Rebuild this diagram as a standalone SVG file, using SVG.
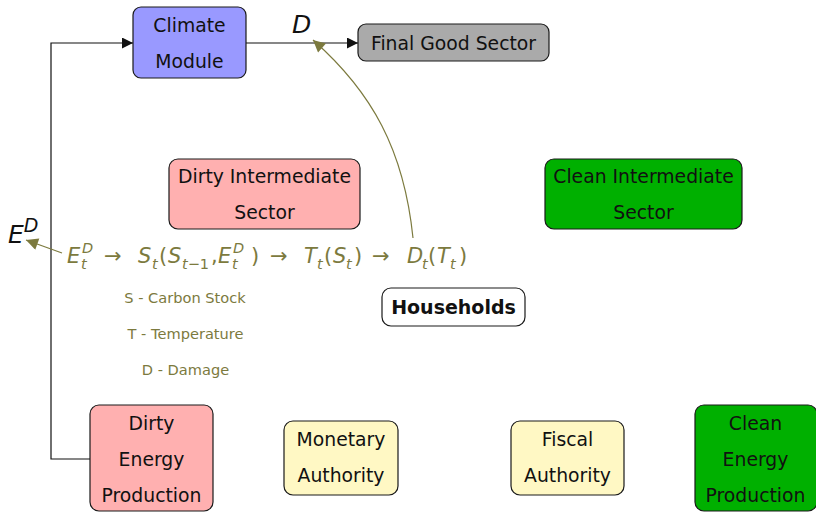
<svg xmlns="http://www.w3.org/2000/svg" width="816" height="512" viewBox="0 0 816 512">
  <style>
    .box { stroke: #1a1a1a; stroke-width: 1.2; }
    .lbl { font-family: "DejaVu Sans", "Liberation Sans", sans-serif; font-size: 18.8px; fill: #111; text-anchor: middle; }
    .bold { font-weight: bold; font-size: 19px; }
    .math { font-family: "DejaVu Sans", "Liberation Sans", sans-serif; font-size: 21px; fill: #7c7a3e; }
    .it { font-style: oblique; }
    .sm { font-size: 14.5px; }
    .legend { font-family: "DejaVu Sans", "Liberation Sans", sans-serif; font-size: 14.6px; fill: #7c7a3e; text-anchor: middle; }
    .big { font-family: "DejaVu Sans", "Liberation Sans", sans-serif; font-style: oblique; font-size: 25px; fill: #111; }
    .wire { fill: none; stroke: #111; stroke-width: 1.2; }
    .owire { fill: none; stroke: #7c7a3e; stroke-width: 1.2; }
  </style>
  <defs>
    <marker id="blk" viewBox="0 0 10 10" refX="10" refY="5" markerWidth="12" markerHeight="11" markerUnits="userSpaceOnUse" orient="auto">
      <path d="M0,0 L10,5 L0,10 Z" fill="#111"/>
    </marker>
    <marker id="olive" viewBox="0 0 10 10" refX="10" refY="5" markerWidth="13" markerHeight="12" markerUnits="userSpaceOnUse" orient="auto">
      <path d="M0,0 L10,5 L0,10 Z" fill="#7c7a3e"/>
    </marker>
  </defs>

  <rect width="816" height="512" fill="#ffffff"/>

  <!-- connectors -->
  <g id="connectors">
    <path class="wire" d="M90,459 H51 V43 H133" marker-end="url(#blk)"/>
    <path class="wire" d="M246,43 H358" marker-end="url(#blk)"/>
    <path class="owire" d="M413,238 C404,150 372,92 313,40" marker-end="url(#olive)"/>
    <path class="owire" d="M62,253 L26,240" marker-end="url(#olive)"/>
    <text class="big" x="292" y="33">D</text>
    <text class="big" x="8" y="243">E<tspan font-size="19" dy="-11">D</tspan></text>
  </g>

  <g id="climate-module">
    <rect class="box" x="133" y="7" width="113" height="71" rx="8" fill="#9999ff"/>
    <text class="lbl" x="189.5" y="32">Climate</text>
    <text class="lbl" x="189.5" y="68">Module</text>
  </g>

  <g id="final-good-sector">
    <rect class="box" x="358" y="24" width="191" height="37" rx="8" fill="#aaaaaa"/>
    <text class="lbl" x="453.5" y="49.5">Final Good Sector</text>
  </g>

  <g id="dirty-intermediate">
    <rect class="box" x="169" y="159" width="191" height="70" rx="9" fill="#ffb0b0"/>
    <text class="lbl" x="264.5" y="183">Dirty Intermediate</text>
    <text class="lbl" x="264.5" y="219">Sector</text>
  </g>

  <g id="clean-intermediate">
    <rect class="box" x="545" y="159" width="197" height="70" rx="9" fill="#00b000"/>
    <text class="lbl" x="643.5" y="183">Clean Intermediate</text>
    <text class="lbl" x="643.5" y="219">Sector</text>
  </g>

  <g id="households">
    <rect class="box" x="382" y="288" width="143" height="38" rx="9" fill="#ffffff"/>
    <text class="lbl bold" x="453.5" y="314">Households</text>
  </g>

  <g id="climate-chain">
    <text class="math">
      <tspan class="it" x="67" y="263">E</tspan>
      <tspan class="it sm" x="82" y="253">D</tspan>
      <tspan class="it sm" x="81" y="269">t</tspan>
      <tspan x="104" y="263">→</tspan>
      <tspan class="it" x="138" y="263">S</tspan>
      <tspan class="it sm" x="152" y="269">t</tspan>
      <tspan x="159" y="263">(</tspan>
      <tspan class="it" x="168" y="263">S</tspan>
      <tspan class="sm" x="182" y="269"><tspan class="it">t</tspan>−1</tspan>
      <tspan x="211" y="263">,</tspan>
      <tspan class="it" x="218" y="263">E</tspan>
      <tspan class="it sm" x="233" y="253">D</tspan>
      <tspan class="it sm" x="232" y="269">t</tspan>
      <tspan x="251" y="263">)</tspan>
      <tspan x="270" y="263">→</tspan>
      <tspan class="it" x="304" y="263">T</tspan>
      <tspan class="it sm" x="317" y="269">t</tspan>
      <tspan x="324" y="263">(</tspan>
      <tspan class="it" x="333" y="263">S</tspan>
      <tspan class="it sm" x="346" y="269">t</tspan>
      <tspan x="354" y="263">)</tspan>
      <tspan x="372" y="263">→</tspan>
      <tspan class="it" x="407" y="263">D</tspan>
      <tspan class="it sm" x="422" y="269">t</tspan>
      <tspan x="428" y="263">(</tspan>
      <tspan class="it" x="437" y="263">T</tspan>
      <tspan class="it sm" x="450" y="269">t</tspan>
      <tspan x="459" y="263">)</tspan>
    </text>
    <text class="legend" x="185" y="303">S - Carbon Stock</text>
    <text class="legend" x="185.5" y="339">T - Temperature</text>
    <text class="legend" x="185.5" y="375">D - Damage</text>
  </g>

  <g id="dirty-energy">
    <rect class="box" x="90" y="405" width="123" height="106" rx="9" fill="#ffb0b0"/>
    <text class="lbl" x="151.5" y="430">Dirty</text>
    <text class="lbl" x="151.5" y="466">Energy</text>
    <text class="lbl" x="151.5" y="502">Production</text>
  </g>

  <g id="monetary-authority">
    <rect class="box" x="284" y="421" width="114" height="74" rx="9" fill="#fff8c4"/>
    <text class="lbl" x="341" y="446">Monetary</text>
    <text class="lbl" x="341" y="482">Authority</text>
  </g>

  <g id="fiscal-authority">
    <rect class="box" x="511" y="421" width="113" height="74" rx="9" fill="#fff8c4"/>
    <text class="lbl" x="567.5" y="446">Fiscal</text>
    <text class="lbl" x="567.5" y="482">Authority</text>
  </g>

  <g id="clean-energy">
    <rect class="box" x="695" y="405" width="122" height="106" rx="9" fill="#00b000"/>
    <text class="lbl" x="755.5" y="430">Clean</text>
    <text class="lbl" x="755.5" y="466">Energy</text>
    <text class="lbl" x="755.5" y="502">Production</text>
  </g>
</svg>
